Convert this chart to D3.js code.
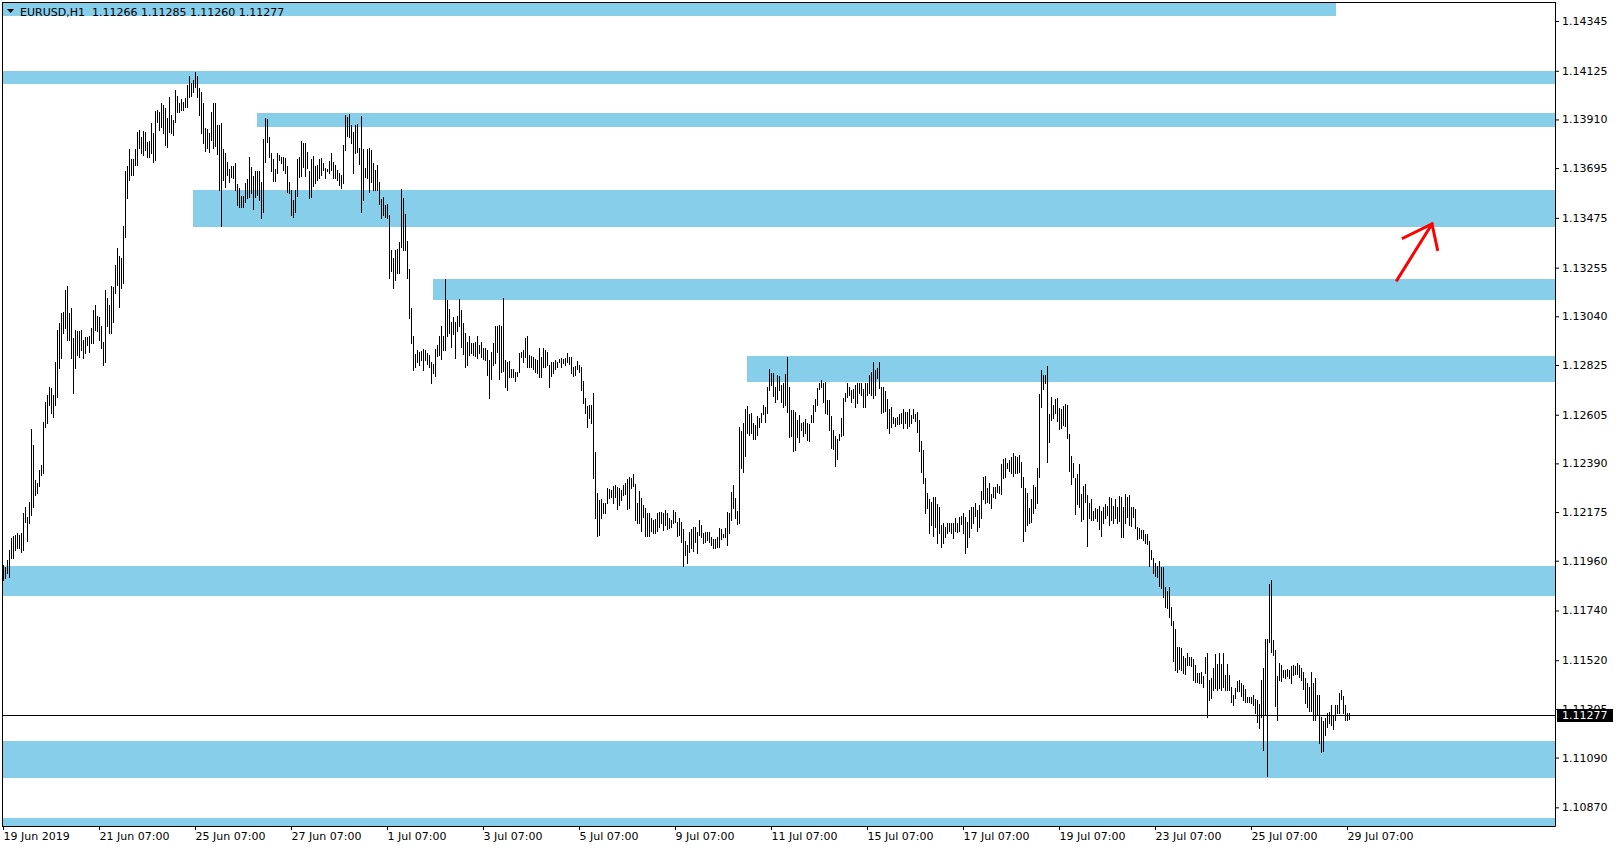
<!DOCTYPE html>
<html><head><meta charset="utf-8">
<script src="https://cdn.jsdelivr.net/npm/d3@7"></script>
<style>
body{margin:0;background:#fff}
svg{display:block}
text{font-family:"DejaVu Sans",Verdana,sans-serif;font-size:11px;fill:#000}
</style>
</head><body>
<svg id="chart" width="1619" height="850"></svg>
<script>
// ---------------- DATA ----------------
const symbolTitle = "EURUSD,H1";
const lastBarOHLC = [1.11266, 1.11285, 1.11260, 1.11277];
const currentPrice = 1.11277;

// hourly bar highs / lows, 19 Jun 2019 07:00 .. 29 Jul 2019 08:00
const high = [
1.11941,1.11934,1.11963,1.12008,1.12059,1.12067,1.12074,1.12081,1.12074,1.12081,
1.12170,1.12199,1.12155,1.12221,1.12541,1.12472,1.12317,1.12302,1.12361,1.12383,
1.12575,1.12663,1.12693,1.12729,1.12722,1.12693,1.12840,1.12980,1.13009,1.13054,
1.13061,1.13157,1.13174,1.13054,1.13076,1.12943,1.12980,1.12973,1.12973,1.12980,
1.12936,1.12950,1.12950,1.12953,1.12987,1.13068,1.13090,1.13042,1.13039,1.12995,
1.12928,1.13157,1.13120,1.13090,1.13174,1.13171,1.13267,1.13341,1.13307,1.13297,
1.13439,1.13682,1.13705,1.13778,1.13734,1.13734,1.13778,1.13856,1.13864,1.13834,
1.13861,1.13856,1.13812,1.13815,1.13893,1.13849,1.13948,1.13952,1.13945,1.13984,
1.13974,1.13959,1.13915,1.14011,1.13930,1.13908,1.14040,1.14014,1.13984,1.13999,
1.13989,1.14004,1.14063,1.14102,1.14073,1.14085,1.14121,1.14102,1.14048,1.14033,
1.13984,1.13871,1.13867,1.13852,1.13945,1.13984,1.13984,1.13886,1.13886,1.13893,
1.13778,1.13761,1.13724,1.13690,1.13705,1.13705,1.13719,1.13625,1.13606,1.13572,
1.13572,1.13628,1.13646,1.13743,1.13702,1.13660,1.13682,1.13680,1.13682,1.13635,
1.13822,1.13915,1.13911,1.13834,1.13761,1.13736,1.13690,1.13761,1.13753,1.13746,
1.13743,1.13738,1.13705,1.13635,1.13596,1.13554,1.13599,1.13734,1.13743,1.13815,
1.13805,1.13805,1.13764,1.13680,1.13734,1.13749,1.13705,1.13709,1.13734,1.13738,
1.13716,1.13694,1.13690,1.13728,1.13761,1.13724,1.13709,1.13687,1.13672,
1.13665,1.13797,1.13930,1.13920,1.13934,1.13886,1.13856,1.13886,1.13890,1.13783,
1.13923,1.13778,1.13694,1.13778,1.13783,1.13775,1.13716,1.13687,1.13709,1.13635,
1.13557,1.13566,1.13532,1.13537,
1.13488,1.13333,1.13297,1.13333,1.13336,1.13370,1.13602,1.13562,1.13493,1.13373,
1.13248,1.13076,1.12953,1.12874,1.12892,1.12884,1.12887,1.12895,1.12892,1.12877,
1.12870,1.12836,1.12830,1.12896,1.12914,1.12953,1.12998,1.12953,1.13204,1.13113,
1.13071,1.13017,1.13036,1.13017,1.13042,1.13115,1.13068,1.13009,1.12965,1.12928,
1.12953,1.12921,1.12921,1.12928,1.12951,1.12914,1.12928,1.12899,1.12899,1.12892,
1.12847,1.12884,1.12924,1.12998,1.12998,1.13002,1.12998,1.13120,1.12847,1.12840,
1.12844,1.12806,1.12806,1.12796,1.12796,1.12877,1.12884,1.12892,1.12943,1.12951,
1.12870,1.12865,1.12862,1.12850,1.12847,1.12899,1.12859,1.12899,1.12892,1.12884,
1.12825,1.12836,1.12840,1.12847,1.12840,1.12850,1.12855,1.12850,1.12855,1.12880,
1.12862,1.12859,1.12818,1.12821,1.12844,1.12825,1.12818,1.12752,1.12678,1.12644,
1.12649,1.12649,1.12703,1.12442,1.12258,1.12229,1.12232,1.12214,1.12217,1.12280,
1.12276,1.12273,1.12291,1.12295,1.12285,1.12280,1.12273,1.12295,1.12302,1.12320,
1.12329,1.12324,1.12344,1.12299,1.12214,1.12266,1.12236,1.12207,1.12192,1.12170,
1.12170,1.12148,1.12140,1.12143,1.12170,1.12177,1.12173,1.12170,1.12185,1.12170,
1.12148,1.12140,1.12182,1.12177,1.12133,1.12148,
1.12132,1.12098,1.12048,1.12029,1.12088,1.12098,1.12110,1.12107,1.12088,1.12140,
1.12117,1.12081,1.12088,1.12088,1.12088,1.12066,1.12054,1.12054,1.12063,1.12103,
1.12098,1.12078,1.12103,1.12176,1.12172,1.12265,1.12294,1.12235,1.12181,1.12549,
1.12534,1.12570,1.12629,1.12643,1.12608,1.12614,1.12570,1.12559,1.12599,1.12589,
1.12611,1.12648,1.12640,1.12729,1.12805,1.12788,1.12788,1.12729,1.12780,1.12776,
1.12736,1.12746,1.12785,1.12858,1.12729,1.12626,1.12626,1.12618,1.12582,1.12604,
1.12567,1.12574,1.12584,1.12570,1.12564,1.12604,1.12648,1.12673,1.12721,1.12744,
1.12758,1.12744,1.12751,1.12670,1.12670,1.12599,1.12537,1.12511,1.12496,1.12520,
1.12589,1.12677,1.12702,1.12744,1.12729,1.12714,1.12717,1.12736,1.12744,1.12744,
1.12746,1.12717,1.12744,1.12746,1.12780,1.12795,1.12839,1.12802,1.12813,1.12836,
1.12729,1.12729,1.12711,1.12673,1.12629,1.12640,1.12596,1.12589,1.12593,1.12608,
1.12614,1.12629,1.12618,1.12618,1.12629,1.12604,1.12629,1.12608,1.12618,1.12582,
1.12490,1.12449,1.12324,1.12257,1.12231,1.12221,1.12243,1.12243,1.12210,1.12199,
1.12117,1.12125,1.12107,1.12125,1.12128,1.12125,1.12128,1.12147,1.12128,1.12154,
1.12157,1.12172,1.12154,1.12132,1.12184,1.12199,1.12196,1.12216,1.12184,1.12206,
1.12269,1.12328,1.12334,1.12280,1.12305,1.12254,1.12287,1.12287,1.12299,1.12290,
1.12387,1.12408,1.12412,1.12393,1.12405,1.12417,1.12437,1.12422,1.12420,1.12427,
1.12397,1.12331,1.12280,1.12257,1.12191,1.12231,1.12294,1.12287,1.12368,1.12696,
1.12802,1.12780,1.12780,1.12820,1.12608,1.12682,1.12648,1.12673,1.12677,1.12633,
1.12629,1.12643,1.12652,1.12648,1.12520,1.12422,1.12393,1.12324,1.12343,1.12387,
1.12254,1.12290,1.12299,1.12250,1.12213,1.12231,1.12181,1.12191,1.12187,1.12202,
1.12181,1.12196,1.12210,1.12202,1.12240,1.12235,1.12202,1.12231,1.12199,1.12246,
1.12243,1.12199,1.12254,1.12243,1.12250,1.12196,1.12199,1.12187,1.12107,1.12103,
1.12095,1.12095,1.12078,1.12078,1.12048,1.12007,1.11970,1.11951,1.11936,1.11960,
1.11933,1.11933,1.11845,1.11827,1.11845,1.11754,1.11695,1.11656,1.11580,1.11577,
1.11572,1.11539,1.11528,1.11550,1.11536,1.11536,1.11524,1.11499,1.11465,1.11465,
1.11469,1.11450,1.11533,1.11553,1.11433,1.11440,1.11484,1.11547,1.11503,1.11553,
1.11503,1.11553,1.11455,1.11503,1.11455,1.11403,1.11366,1.11396,1.11430,1.11433,
1.11418,1.11410,1.11391,1.11359,1.11359,1.11356,1.11366,1.11347,1.11344,1.11326,
1.11433,1.11484,1.11612,1.11612,1.11857,1.11874,1.11609,1.11565,1.11450,1.11506,
1.11499,1.11477,1.11477,1.11480,1.11477,1.11494,1.11499,1.11494,1.11506,1.11499,
1.11484,1.11469,1.11440,1.11421,1.11403,1.11469,1.11418,1.11440,1.11366,1.11366,
1.11271,1.11253,1.11263,1.11288,1.11293,1.11322,1.11278,1.11322,1.11322,1.11374,
1.11388,1.11362,1.11322,1.11285,1.11285
];
const low = [
1.11875,1.11882,1.11905,1.11890,1.11971,1.11971,1.12008,1.12015,1.12015,1.12000,
1.12008,1.12133,1.12045,1.12126,1.12162,1.12199,1.12251,1.12258,1.12288,1.12339,
1.12346,1.12553,1.12567,1.12648,1.12612,1.12597,1.12648,1.12685,1.12810,1.12855,
1.12965,1.12987,1.12936,1.12936,1.12855,1.12703,1.12810,1.12869,1.12862,1.12891,
1.12855,1.12877,1.12914,1.12884,1.12921,1.12921,1.12980,1.12973,1.12936,1.12899,
1.12825,1.12840,1.12995,1.12965,1.12965,1.13017,1.13142,1.13179,1.13083,1.13164,
1.13186,1.13392,1.13562,1.13643,1.13665,1.13665,1.13709,1.13709,1.13783,1.13761,
1.13753,1.13775,1.13746,1.13746,1.13761,1.13724,1.13731,1.13900,1.13864,1.13878,
1.13849,1.13797,1.13790,1.13856,1.13849,1.13842,1.13900,1.13945,1.13945,1.13952,
1.13952,1.13967,1.13967,1.14011,1.14014,1.14033,1.14055,1.14011,1.13930,1.13852,
1.13808,1.13772,1.13783,1.13764,1.13819,1.13783,1.13793,1.13756,1.13599,1.13439,
1.13643,1.13613,1.13665,1.13635,1.13657,1.13650,1.13599,1.13532,1.13525,1.13525,
1.13525,1.13547,1.13562,1.13569,1.13584,1.13513,1.13569,1.13576,1.13554,1.13473,
1.13503,1.13724,1.13812,1.13743,1.13680,1.13640,1.13640,1.13675,1.13731,1.13716,
1.13687,1.13672,1.13591,1.13587,1.13488,1.13478,1.13503,1.13572,1.13657,1.13660,
1.13702,1.13660,1.13694,1.13562,1.13569,1.13616,1.13628,1.13643,1.13650,1.13665,
1.13687,1.13650,1.13680,1.13675,1.13687,1.13650,1.13650,1.13643,1.13621,
1.13606,1.13628,1.13775,1.13837,1.13834,1.13805,1.13675,1.13761,1.13768,1.13713,
1.13503,1.13554,1.13657,1.13650,1.13591,1.13635,1.13599,1.13599,1.13599,1.13537,
1.13473,1.13488,1.13478,1.13473,
1.13208,1.13238,1.13164,1.13201,1.13230,1.13230,1.13348,1.13333,1.13333,1.13208,
1.13032,1.12921,1.12803,1.12818,1.12840,1.12825,1.12847,1.12803,1.12847,1.12830,
1.12818,1.12744,1.12791,1.12774,1.12865,1.12870,1.12850,1.12892,1.12892,1.12951,
1.12965,1.12906,1.12962,1.12855,1.12973,1.12998,1.12906,1.12874,1.12818,1.12825,
1.12870,1.12877,1.12870,1.12865,1.12855,1.12877,1.12859,1.12850,1.12847,1.12781,
1.12678,1.12762,1.12825,1.12833,1.12884,1.12762,1.12796,1.12800,1.12729,1.12715,
1.12771,1.12771,1.12771,1.12752,1.12777,1.12796,1.12859,1.12840,1.12862,1.12818,
1.12815,1.12818,1.12806,1.12796,1.12788,1.12771,1.12771,1.12815,1.12818,1.12825,
1.12727,1.12774,1.12788,1.12806,1.12818,1.12836,1.12818,1.12833,1.12825,1.12836,
1.12830,1.12791,1.12777,1.12781,1.12806,1.12796,1.12715,1.12656,1.12612,1.12553,
1.12590,1.12567,1.12324,1.12148,1.12070,1.12074,1.12148,1.12170,1.12170,1.12214,
1.12236,1.12241,1.12217,1.12243,1.12187,1.12207,1.12229,1.12251,1.12255,1.12187,
1.12192,1.12280,1.12288,1.12140,1.12126,1.12126,1.12089,1.12155,1.12070,1.12067,
1.12067,1.12089,1.12081,1.12081,1.12089,1.12108,1.12126,1.12096,1.12118,1.12099,
1.12104,1.12111,1.12126,1.12133,1.12067,1.12074,
1.12044,1.11936,1.11985,1.11948,1.12000,1.12014,1.12004,1.12044,1.11992,1.12073,
1.12066,1.12036,1.12044,1.12051,1.12044,1.12029,1.12014,1.12014,1.12022,1.12022,
1.12054,1.12063,1.12066,1.12029,1.12081,1.12140,1.12191,1.12147,1.12122,1.12125,
1.12368,1.12353,1.12422,1.12523,1.12515,1.12523,1.12496,1.12496,1.12515,1.12552,
1.12574,1.12608,1.12574,1.12611,1.12714,1.12736,1.12688,1.12663,1.12673,1.12714,
1.12663,1.12640,1.12648,1.12618,1.12508,1.12511,1.12446,1.12449,1.12508,1.12486,
1.12537,1.12511,1.12525,1.12493,1.12490,1.12574,1.12574,1.12623,1.12648,1.12717,
1.12729,1.12663,1.12614,1.12608,1.12537,1.12456,1.12452,1.12378,1.12408,1.12493,
1.12511,1.12515,1.12667,1.12682,1.12692,1.12663,1.12677,1.12640,1.12658,1.12699,
1.12692,1.12640,1.12640,1.12692,1.12702,1.12692,1.12677,1.12692,1.12766,1.12721,
1.12611,1.12618,1.12623,1.12545,1.12525,1.12549,1.12570,1.12555,1.12564,1.12564,
1.12567,1.12545,1.12570,1.12545,1.12555,1.12570,1.12589,1.12579,1.12530,1.12446,
1.12353,1.12305,1.12172,1.12191,1.12084,1.12117,1.12069,1.12110,1.12039,1.12081,
1.12019,1.12036,1.12063,1.12081,1.12092,1.12081,1.12059,1.12092,1.12088,1.12092,
1.12122,1.12081,1.11992,1.12022,1.12063,1.12103,1.12128,1.12157,1.12092,1.12107,
1.12147,1.12231,1.12216,1.12221,1.12213,1.12191,1.12243,1.12235,1.12265,1.12260,
1.12254,1.12324,1.12328,1.12368,1.12358,1.12346,1.12334,1.12346,1.12349,1.12353,
1.12287,1.12048,1.12092,1.12117,1.12125,1.12132,1.12169,1.12191,1.12213,1.12331,
1.12640,1.12717,1.12744,1.12397,1.12486,1.12582,1.12589,1.12611,1.12579,1.12540,
1.12545,1.12559,1.12555,1.12500,1.12358,1.12299,1.12328,1.12166,1.12210,1.12199,
1.12137,1.12143,1.12221,1.12025,1.12147,1.12140,1.12140,1.12147,1.12137,1.12098,
1.12069,1.12128,1.12147,1.12162,1.12117,1.12140,1.12128,1.12147,1.12125,1.12137,
1.12066,1.12066,1.12128,1.12151,1.12117,1.12113,1.12154,1.12103,1.12054,1.12059,
1.12059,1.12051,1.12036,1.12034,1.11936,1.11966,1.11907,1.11892,1.11886,1.11848,
1.11838,1.11801,1.11757,1.11749,1.11712,1.11676,1.11518,1.11477,1.11469,1.11480,
1.11477,1.11462,1.11459,1.11499,1.11499,1.11494,1.11433,1.11425,1.11425,1.11421,
1.11418,1.11403,1.11465,1.11268,1.11344,1.11352,1.11388,1.11396,1.11388,1.11396,
1.11388,1.11403,1.11388,1.11388,1.11388,1.11337,1.11322,1.11352,1.11385,1.11385,
1.11362,1.11344,1.11337,1.11337,1.11337,1.11332,1.11322,1.11285,1.11248,1.11219,
1.11271,1.11123,1.11278,1.11008,1.11602,1.11558,1.11543,1.11318,1.11256,1.11433,
1.11430,1.11444,1.11440,1.11450,1.11440,1.11418,1.11455,1.11459,1.11459,1.11444,
1.11433,1.11391,1.11329,1.11315,1.11297,1.11297,1.11256,1.11256,1.11278,1.11156,
1.11116,1.11120,1.11190,1.11223,1.11241,1.11234,1.11215,1.11256,1.11288,1.11285,
1.11347,1.11288,1.11256,1.11256,1.11260
];

// time axis: bar index of each label
const xTickIndex  = [0,48,96,144,192,240,288,336,384,432,480,528,576,624,672];
const xTickLabels = ["19 Jun 2019","21 Jun 07:00","25 Jun 07:00","27 Jun 07:00","1 Jul 07:00",
  "3 Jul 07:00","5 Jul 07:00","9 Jul 07:00","11 Jul 07:00","15 Jul 07:00","17 Jul 07:00",
  "19 Jul 07:00","23 Jul 07:00","25 Jul 07:00","29 Jul 07:00"];
const yTicks = [1.14345,1.14125,1.13910,1.13695,1.13475,1.13255,1.13040,1.12825,1.12605,
  1.12390,1.12175,1.11960,1.11740,1.11520,1.11305,1.11090,1.10870];

// supply / demand zones (start/end as bar index; null = chart edge)
const zoneStart = [null, null, 126.85, 94.85, 214.85, 371.85, null, null, null];
const zoneEnd   = [666.5, null, null, null, null, null, null, null, null];
const zoneHigh  = [1.14440, 1.14124, 1.13940, 1.13598, 1.13205, 1.12865, 1.11937, 1.11163, 1.10824];
const zoneLow   = [1.14369, 1.14068, 1.13878, 1.13436, 1.13112, 1.12750, 1.11804, 1.11001, 1.10700];

// hand-drawn arrow (bar index, price)
const arrowTail = [697, 1.13200];
const arrowTip  = [714.5, 1.13448];

// ---------------- DRAW ----------------
const L = 2, R = 1555, T = 2, B = 826;
const svg = d3.select("#chart");
const x = d3.scaleLinear().domain([-0.5, 776]).range([L, R]);
const y = d3.scaleLinear().domain([1.107875, 1.14429]).range([B, T]);

svg.append("rect").attr("width",1619).attr("height",850).attr("fill","#fff");
svg.append("defs").append("clipPath").attr("id","plotclip")
  .append("rect").attr("x",L).attr("y",T).attr("width",R-L).attr("height",B-T);

const plot = svg.append("g").attr("clip-path","url(#plotclip)");

// zones
plot.append("g").selectAll("rect").data(zoneHigh).join("rect")
  .attr("x",(d,i)=> zoneStart[i]===null ? L : Math.round(x(zoneStart[i])))
  .attr("width",(d,i)=> (zoneEnd[i]===null ? R : Math.round(x(zoneEnd[i]))) - (zoneStart[i]===null ? L : Math.round(x(zoneStart[i]))))
  .attr("y",d=>Math.round(y(d)))
  .attr("height",(d,i)=>Math.max(1,Math.round(y(zoneLow[i]))-Math.round(y(d))))
  .attr("fill","#87CEEB");

// current price line
plot.append("line").attr("x1",L).attr("x2",R)
  .attr("y1",Math.round(y(currentPrice))+0.5).attr("y2",Math.round(y(currentPrice))+0.5)
  .attr("stroke","#000").attr("stroke-width",1);

// bars (high-low)
const n = Math.min(high.length, low.length);
plot.append("g").attr("shape-rendering","crispEdges").selectAll("rect").data(d3.range(n)).join("rect")
  .attr("x",i=>Math.round(x(i)))
  .attr("width",1)
  .attr("y",i=>Math.round(y(high[i])))
  .attr("height",i=>Math.max(1,Math.round(y(low[i]))-Math.round(y(high[i]))+1))
  .attr("fill","#000");

// arrow
const tx = x(arrowTip[0]), ty = y(arrowTip[1]);
const sx = x(arrowTail[0]), sy = y(arrowTail[1]);
const ang = Math.atan2(sy-ty, sx-tx);
const b1 = ang + 0.56, b2 = ang - 0.77;
plot.append("path")
  .attr("d",`M${sx},${sy}L${tx},${ty}M${tx+32*Math.cos(b1)},${ty+32*Math.sin(b1)}L${tx},${ty}L${tx+26*Math.cos(b2)},${ty+26*Math.sin(b2)}`)
  .attr("fill","none").attr("stroke","#ff0000").attr("stroke-width",3)
  .attr("stroke-linejoin","miter").attr("stroke-linecap","square");

// frame
svg.append("path").attr("d",`M${L+0.5},${B+0.5}V${T+0.5}H${R+0.5}`)
  .attr("fill","none").attr("stroke","#000").attr("shape-rendering","crispEdges");

// y axis
const yAxis = svg.append("g").attr("transform",`translate(${R},0)`)
  .call(d3.axisRight(y).tickValues(yTicks).tickFormat(d3.format(".5f")).tickSize(4).tickSizeOuter(0).tickPadding(3));
yAxis.select(".domain").attr("stroke","#000");
yAxis.selectAll("text").attr("font-family",null).attr("font-size",null).style("font-family",'"DejaVu Sans",Verdana,sans-serif').style("font-size","11px").attr("fill","#000");
yAxis.attr("font-family",null).attr("font-size",null);

// x axis
const xAxis = svg.append("g").attr("transform",`translate(0,${B})`)
  .call(d3.axisBottom(x).tickValues(xTickIndex).tickFormat((d,i)=>xTickLabels[i]).tickSize(4).tickSizeOuter(0).tickPadding(2));
xAxis.select(".domain").attr("stroke","#000");
xAxis.selectAll("text").attr("text-anchor","start").attr("x",0).attr("fill","#000");
xAxis.attr("font-family",null).attr("font-size",null);

// current price label
const cy = y(currentPrice);
svg.append("rect").attr("x",R+2).attr("y",Math.round(cy)-6).attr("width",56).attr("height",13).attr("fill","#000");
svg.append("text").attr("x",R+7).attr("y",cy).attr("dy","0.35em").style("fill","#fff")
  .text(d3.format(".5f")(currentPrice));

// title
svg.append("path").attr("d","M7,9L14,9L10.5,13Z").attr("fill","#000");
svg.append("text").attr("x",20).attr("y",16).attr("xml:space","preserve").style("white-space","pre")
  .text(symbolTitle + "  " + lastBarOHLC.map(d3.format(".5f")).join(" "));
</script>
</body></html>
